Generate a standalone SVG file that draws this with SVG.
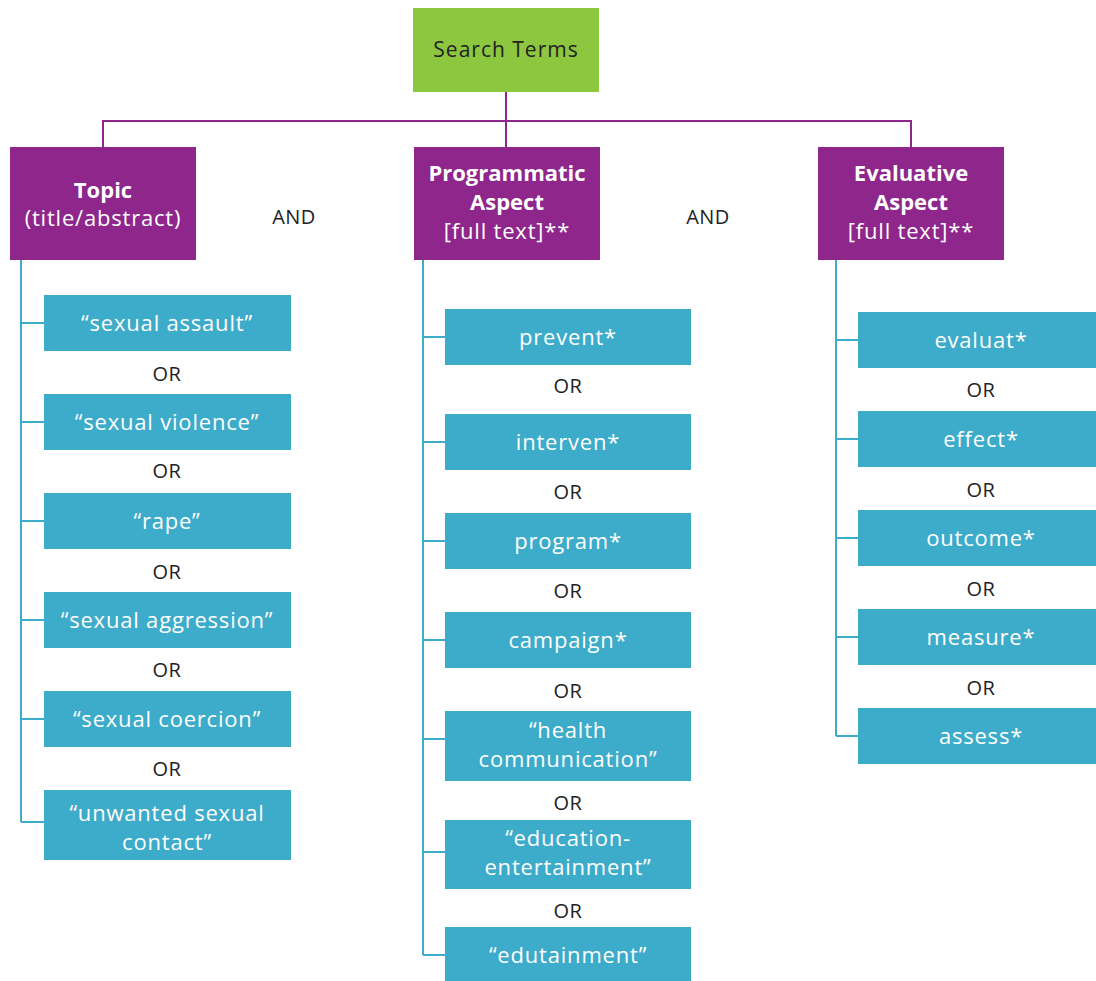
<svg xmlns="http://www.w3.org/2000/svg" width="1096" height="981" viewBox="0 0 1096 981">
<style>
.root{fill:#8dc63f}
.hdr{fill:#8e268b}
.box{fill:#3dabca}
.t{font-family:"Open Sans","Noto Sans",sans-serif;text-anchor:middle}
.bt{fill:#fff;font-size:22px;letter-spacing:0.8px}
.ht{fill:#fff;font-size:22px;letter-spacing:0.8px}
.b{font-weight:bold;letter-spacing:0}
.lbl{fill:#222;font-size:20px;letter-spacing:0.5px}
.pl{stroke:#8e268b;stroke-width:2;fill:none}
.cl{stroke:#3dabca;stroke-width:2;fill:none}
</style>
<rect width="1096" height="981" fill="#fff"/>
<g id="connectors">
<path class="pl" d="M506 92V147M103 147V121H911V147"/>
<path class="cl" d="M21 260V822M21 323H44M21 422H44M21 521H44M21 620H44M21 719H44M21 822H44"/>
<path class="cl" d="M423 260V955M423 337H445M423 442H445M423 541H445M423 640H445M423 739H445M423 852H445M423 955H445"/>
<path class="cl" d="M836 260V736M836 340H858M836 439H858M836 538H858M836 637H858M836 736H858"/>
</g>
<g id="search-terms"><rect class="root" x="413" y="8" width="186" height="84"/><text class="t" x="506" y="57" font-size="21" letter-spacing="1" fill="#222">Search Terms</text></g>
<g id="topic"><rect class="hdr" x="10" y="147" width="186" height="113"/><text class="t ht" x="103" y="198"><tspan class="b">Topic</tspan><tspan x="103" dy="28">(title/abstract)</tspan></text></g>
<g id="programmatic"><rect class="hdr" x="414" y="147" width="186" height="113"/><text class="t ht" x="507" y="181"><tspan class="b">Programmatic</tspan><tspan class="b" x="507" dy="29">Aspect</tspan><tspan x="507" dy="29">[full text]**</tspan></text></g>
<g id="evaluative"><rect class="hdr" x="818" y="147" width="186" height="113"/><text class="t ht" x="911" y="181"><tspan class="b">Evaluative</tspan><tspan class="b" x="911" dy="29">Aspect</tspan><tspan x="911" dy="29">[full text]**</tspan></text></g>
<g id="and-labels"><text class="t lbl" x="294" y="224">AND</text><text class="t lbl" x="708" y="224">AND</text></g>
<g id="topic-terms">
<g id="t1"><rect class="box" x="44" y="295" width="247" height="56"/><text class="t bt" x="167" y="331">“sexual assault”</text></g>
<g id="t2"><rect class="box" x="44" y="394" width="247" height="56"/><text class="t bt" x="167" y="430">“sexual violence”</text></g>
<g id="t3"><rect class="box" x="44" y="493" width="247" height="56"/><text class="t bt" x="167" y="529">“rape”</text></g>
<g id="t4"><rect class="box" x="44" y="592" width="247" height="56"/><text class="t bt" x="167" y="628">“sexual aggression”</text></g>
<g id="t5"><rect class="box" x="44" y="691" width="247" height="56"/><text class="t bt" x="167" y="727">“sexual coercion”</text></g>
<g id="t6"><rect class="box" x="44" y="790" width="247" height="70"/><text class="t bt" x="167" y="821">“unwanted sexual<tspan x="167" dy="29">contact”</tspan></text></g>
<text class="t lbl" x="167" y="381">OR</text><text class="t lbl" x="167" y="478">OR</text><text class="t lbl" x="167" y="579">OR</text><text class="t lbl" x="167" y="677">OR</text><text class="t lbl" x="167" y="776">OR</text>
</g>
<g id="program-terms">
<g id="p1"><rect class="box" x="445" y="309" width="246" height="56"/><text class="t bt" x="568" y="345">prevent*</text></g>
<g id="p2"><rect class="box" x="445" y="414" width="246" height="56"/><text class="t bt" x="568" y="450">interven*</text></g>
<g id="p3"><rect class="box" x="445" y="513" width="246" height="56"/><text class="t bt" x="568" y="549">program*</text></g>
<g id="p4"><rect class="box" x="445" y="612" width="246" height="56"/><text class="t bt" x="568" y="648">campaign*</text></g>
<g id="p5"><rect class="box" x="445" y="711" width="246" height="70"/><text class="t bt" x="568" y="738">“health<tspan x="568" dy="29">communication”</tspan></text></g>
<g id="p6"><rect class="box" x="445" y="820" width="246" height="69"/><text class="t bt" x="568" y="846">“education-<tspan x="568" dy="29">entertainment”</tspan></text></g>
<g id="p7"><rect class="box" x="445" y="927" width="246" height="54"/><text class="t bt" x="568" y="963">“edutainment”</text></g>
<text class="t lbl" x="568" y="393">OR</text><text class="t lbl" x="568" y="499">OR</text><text class="t lbl" x="568" y="598">OR</text><text class="t lbl" x="568" y="698">OR</text><text class="t lbl" x="568" y="810">OR</text><text class="t lbl" x="568" y="918">OR</text>
</g>
<g id="eval-terms">
<g id="e1"><rect class="box" x="858" y="312" width="238" height="56"/><text class="t bt" x="981" y="348">evaluat*</text></g>
<g id="e2"><rect class="box" x="858" y="411" width="238" height="56"/><text class="t bt" x="981" y="447">effect*</text></g>
<g id="e3"><rect class="box" x="858" y="510" width="238" height="56"/><text class="t bt" x="981" y="546">outcome*</text></g>
<g id="e4"><rect class="box" x="858" y="609" width="238" height="56"/><text class="t bt" x="981" y="645">measure*</text></g>
<g id="e5"><rect class="box" x="858" y="708" width="238" height="56"/><text class="t bt" x="981" y="744">assess*</text></g>
<text class="t lbl" x="981" y="397">OR</text><text class="t lbl" x="981" y="497">OR</text><text class="t lbl" x="981" y="596">OR</text><text class="t lbl" x="981" y="695">OR</text>
</g>
</svg>
